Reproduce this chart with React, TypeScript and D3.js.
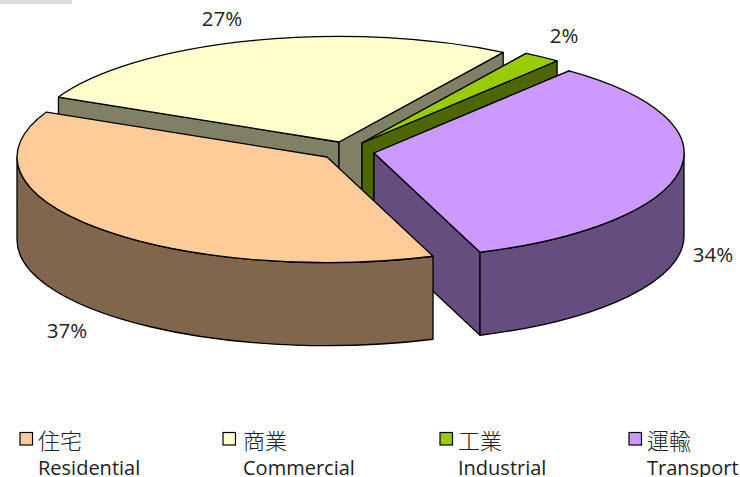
import React from "react";
import * as d3 from "d3";

const categoriesZh = ["住宅", "商業", "工業", "運輸"];
const categoriesEn = ["Residential", "Commercial", "Industrial", "Transport"];
const shareValues = [37.55, 26.89, 1.95, 33.61];
const shareLabels = ["37%", "27%", "2%", "34%"];
const topColors = ["#ffcc99", "#ffffcc", "#99cc00", "#cc99ff"];

const W = 740, H = 477;
const RX = 310, RY = 105.6, DEPTH = 83;
const START = (160 * Math.PI) / 180;
// exploded apex of each slice on the page
const APEX: [number, number][] = [[327, 157], [339, 142], [362, 143], [374, 153]];
const LABEL_POS: [number, number][] = [[67, 338], [222, 26], [564, 43], [713, 262]];
const LEGEND_BOX_X = [20, 223, 440, 629];
const LEGEND_TEXT_X = [38, 243, 458, 647];
const DRAW_ORDER = [1, 2, 3, 0];
const FONT = "'Open Sans','Noto Sans CJK KR','Noto Sans CJK TC',sans-serif";

const wallColor = (c: string) => {
  const r = d3.rgb(c);
  return d3.rgb(r.r * 0.5, r.g * 0.5, r.b * 0.5).formatHex();
};

export default function App() {
  const pie = d3.pie<number>().sort(null).startAngle(START).endAngle(START + 2 * Math.PI);
  const slices = pie(shareValues);
  const arc = d3.arc<d3.PieArcDatum<number>>().innerRadius(0).outerRadius(RX);
  const sx = d3.scaleLinear().domain([-1, 1]).range([-RX, RX]);
  const sy = d3.scaleLinear().domain([-1, 1]).range([RY, -RY]);
  const pt = (a: number) => [sx(Math.sin(a)), sy(Math.cos(a))];
  const stroke = { stroke: "#000", strokeWidth: 1.3, strokeLinejoin: "round" as const };

  const sideWall = (a: number) => {
    const [x, y] = pt(a);
    return `M0,0L${x},${y}L${x},${y + DEPTH}L0,${DEPTH}Z`;
  };
  const outerWall = (a0: number, a1: number) => {
    const [x0, y0] = pt(a0);
    const [x1, y1] = pt(a1);
    return `M${x0},${y0}A${RX},${RY} 0 0 1 ${x1},${y1}L${x1},${y1 + DEPTH}A${RX},${RY} 0 0 0 ${x0},${y0 + DEPTH}Z`;
  };
  const HALF = Math.PI / 2;

  return (
    <svg width={W} height={H} style={{ position: "absolute", left: 0, top: 0, background: "#fff" }}>
      <rect x={0} y={0} width={72} height={4} fill="#dcdcdc" />
      {DRAW_ORDER.map((i) => {
        const s = slices[i];
        const c = topColors[i];
        const w = wallColor(c);
        const [ax, ay] = APEX[i];
        const a0 = s.startAngle, a1 = s.endAngle;
        let outer: string | null = null;
        if (i === 3) outer = outerWall(HALF, a1 - Math.PI * 2);
        if (i === 0) outer = outerWall(a0, 1.5 * Math.PI);
        return (
          <g key={i} transform={`translate(${ax},${ay})`}>
            {i !== 0 && <path d={sideWall(a0)} fill={w} {...stroke} />}
            {i !== 0 && <path d={sideWall(a1)} fill={w} {...stroke} />}
            {outer && <path d={outer} fill={w} {...stroke} />}
            <g transform={`scale(1,${RY / RX})`}>
              <path d={arc(s) as string} fill={c} {...stroke} vectorEffect="non-scaling-stroke" />
            </g>
          </g>
        );
      })}
      {shareLabels.map((t, i) => (
        <text key={t} x={LABEL_POS[i][0]} y={LABEL_POS[i][1]} textAnchor="middle" fontFamily={FONT} fontSize={20.5} fill="#222">
          {t}
        </text>
      ))}
      {categoriesZh.map((t, i) => (
        <g key={t} fontFamily={FONT} fill="#222">
          <rect x={LEGEND_BOX_X[i]} y={432.5} width={12.5} height={12.5} fill={topColors[i]} stroke="#000" strokeWidth={1.2} />
          <text x={LEGEND_TEXT_X[i]} y={449} fontSize={22} fontWeight={300}>{t}</text>
          <text x={LEGEND_TEXT_X[i]} y={475} fontSize={20}>{categoriesEn[i]}</text>
        </g>
      ))}
    </svg>
  );
}
